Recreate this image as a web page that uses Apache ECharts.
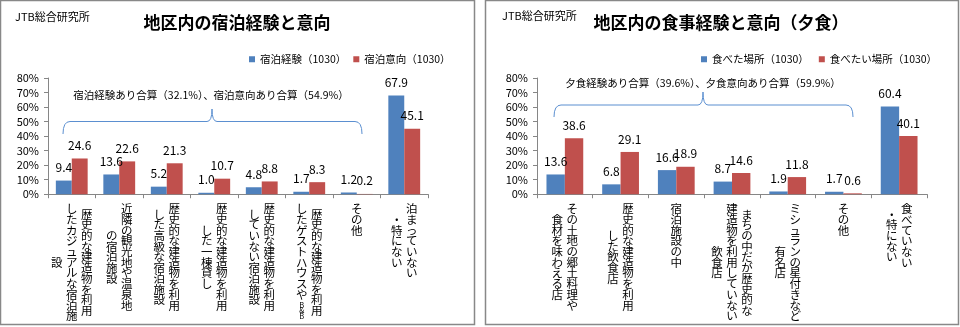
<!DOCTYPE html>
<html><head><meta charset="utf-8">
<script src="https://cdn.jsdelivr.net/npm/echarts@6/dist/echarts.min.js"></script>
<style>html,body{margin:0;padding:0;background:#fff}#c{width:960px;height:327px}</style>
</head><body><div id="c"></div>
<script>
const FONT = '"Noto Sans CJK JP", "Noto Sans", sans-serif';

// ---- Left chart data (宿泊) ----
const leftCategoryColumns = [
  ['歴史的な建造物を利用', 'したカジュアルな宿泊施', '設'],
  ['近隣の観光地や温泉地', 'の宿泊施設'],
  ['歴史的な建造物を利用', 'した高級な宿泊施設'],
  ['歴史的な建造物を利用', 'した一棟貸し'],
  ['歴史的な建造物を利用', 'していない宿泊施設'],
  ['歴史的な建造物を利用', 'したゲストハウスやB&B'],
  ['その他'],
  ['泊まっていない', '・特にない']
];
const leftSeriesNames = ['宿泊経験（1030）', '宿泊意向（1030）'];
const leftExperience = [9.4, 13.6, 5.2, 1.0, 4.8, 1.7, 1.2, 67.9];
const leftIntention  = [24.6, 22.6, 21.3, 10.7, 8.8, 8.3, 0.2, 45.1];
const leftNote = '宿泊経験あり合算（32.1%）、宿泊意向あり合算（54.9%）';
const leftTitle = '地区内の宿泊経験と意向';

// ---- Right chart data (夕食) ----
const rightCategoryColumns = [
  ['その土地の郷土料理や', '食材を味わえる店'],
  ['歴史的な建造物を利用', 'した飲食店'],
  ['宿泊施設の中'],
  ['まちの中だが歴史的な', '建造物を利用していない', '飲食店'],
  ['ミシュランの星付きなど', '有名店'],
  ['その他'],
  ['食べていない', '・特にない']
];
const rightSeriesNames = ['食べた場所（1030）', '食べたい場所（1030）'];
const rightAte  = [13.6, 6.8, 16.6, 8.7, 1.9, 1.7, 60.4];
const rightWant = [38.6, 29.1, 18.9, 14.6, 11.8, 0.6, 40.1];
const rightNote = '夕食経験あり合算（39.6%）、夕食意向あり合算（59.9%）';
const rightTitle = '地区内の食事経験と意向（夕食）';

const sourceLabel = 'JTB総合研究所';
const yMin = 0, yMax = 80, yStep = 10;

const BLUE = '#4F81BD', RED = '#C0504D', AXIS = '#868686';
const H = 5.35; // half character pitch for vertical labels

// Vertical (tategaki) label: columns right-to-left, shorter columns centred vertically
function vert(cols) {
  const colsItems = cols.map(s => Array.from(s).map(ch => ({ch, small: /[A-Za-z&]/.test(ch)})));
  const lens = colsItems.map(it => it.reduce((s, x) => s + (x.small ? 1 : 2), 0));
  const N = Math.max(...lens);
  const rowsPerCol = colsItems.map((items, k) => {
    const rows = {};
    let r = Math.round((N - lens[k]) / 2);
    items.forEach(x => { rows[r] = x; r += x.small ? 1 : 2; });
    return rows;
  });
  const lines = [];
  for (let r = 0; r < N; r++) {
    let line = '';
    for (let k = cols.length - 1; k >= 0; k--) {
      const x = rowsPerCol[k][r];
      line += x ? (x.small ? '{s|' + x.ch + '}' : '{c|' + x.ch + '}') : '{e|　}';
    }
    lines.push(line);
  }
  return lines.join('\n');
}

const leftCats = leftCategoryColumns.map(c => c.join(''));
const rightCats = rightCategoryColumns.map(c => c.join(''));
const colMap = {};
leftCategoryColumns.forEach(c => colMap[c.join('')] = c);
rightCategoryColumns.forEach(c => colMap[c.join('')] = c);

const richStyle = {
  c: {width: 15, align: 'center', fontSize: 11.5, lineHeight: H, fontFamily: FONT, color: '#000'},
  s: {width: 15, align: 'center', fontSize: 7.5, lineHeight: H, fontFamily: FONT, color: '#000'},
  e: {width: 15, align: 'center', fontSize: 11.5, lineHeight: H, fontFamily: FONT, color: '#000'}
};

function xAxis(gridIndex, data) {
  return {
    type: 'category', gridIndex, data,
    axisLine: {lineStyle: {color: AXIS}},
    axisTick: {show: true, length: 4, lineStyle: {color: AXIS}},
    axisLabel: {interval: 0, margin: 12, formatter: v => vert(colMap[v]), rich: richStyle}
  };
}
function yAxis(gridIndex) {
  return {
    type: 'value', gridIndex, min: yMin, max: yMax, interval: yStep,
    axisLine: {show: true, lineStyle: {color: AXIS}},
    axisTick: {show: true, length: 4, lineStyle: {color: AXIS}},
    splitLine: {show: false},
    axisLabel: {formatter: '{value}%', fontSize: 11, color: '#000', fontFamily: FONT, margin: 9}
  };
}
const dataLabel = {show: true, position: 'top', distance: 7, fontSize: 12, color: '#000', fontFamily: FONT,
  formatter: p => p.value.toFixed(1)};
function bar(name, data, idx, color, gap) {
  return {type: 'bar', name, data, xAxisIndex: idx, yAxisIndex: idx,
    barGap: '0%', barCategoryGap: gap, itemStyle: {color}, label: dataLabel};
}

function brace(x0, x1, xc, yEnd, yFlat, yPeak) {
  const r = 7, rp = 5;
  const st = {fill: 'none', stroke: '#5B8FD0', lineWidth: 1};
  return [
    {type: 'bezierCurve', shape: {x1: x0, y1: yEnd, cpx1: x0, cpy1: yFlat, x2: x0 + r, y2: yFlat}, style: st, silent: true},
    {type: 'line', shape: {x1: x0 + r, y1: yFlat, x2: xc - rp, y2: yFlat}, style: st, silent: true},
    {type: 'bezierCurve', shape: {x1: xc - rp, y1: yFlat, cpx1: xc, cpy1: yFlat, x2: xc, y2: yPeak}, style: st, silent: true},
    {type: 'bezierCurve', shape: {x1: xc, y1: yPeak, cpx1: xc, cpy1: yFlat, x2: xc + rp, y2: yFlat}, style: st, silent: true},
    {type: 'line', shape: {x1: xc + rp, y1: yFlat, x2: x1 - r, y2: yFlat}, style: st, silent: true},
    {type: 'bezierCurve', shape: {x1: x1 - r, y1: yFlat, cpx1: x1, cpy1: yFlat, x2: x1, y2: yEnd}, style: st, silent: true}
  ];
}

const chart = echarts.init(document.getElementById('c'));
chart.setOption({
  animation: false,
  textStyle: {fontFamily: FONT},
  grid: [
    {left: 48, top: 78, width: 380, height: 119},
    {left: 537, top: 78, width: 390, height: 119}
  ],
  xAxis: [xAxis(0, leftCats), xAxis(1, rightCats)],
  yAxis: [yAxis(0), yAxis(1)],
  legend: [
    {data: leftSeriesNames, left: 244, top: 49, icon: 'rect', itemWidth: 6, itemHeight: 6, itemGap: 7,
     textStyle: {fontSize: 10.5, color: '#000', fontFamily: FONT}},
    {data: rightSeriesNames, left: 696, top: 49, icon: 'rect', itemWidth: 6, itemHeight: 6, itemGap: 10,
     textStyle: {fontSize: 10.5, color: '#000', fontFamily: FONT}}
  ],
  series: [
    bar(leftSeriesNames[0], leftExperience, 0, BLUE, '33%'),
    bar(leftSeriesNames[1], leftIntention, 0, RED, '33%'),
    bar(rightSeriesNames[0], rightAte, 1, BLUE, '34%'),
    bar(rightSeriesNames[1], rightWant, 1, RED, '34%')
  ],
  graphic: [
    {type: 'rect', shape: {x: 0.5, y: 0.5, width: 474, height: 324}, style: {fill: 'none', stroke: '#888', lineWidth: 1.5}, silent: true},
    {type: 'rect', shape: {x: 485.5, y: 0.5, width: 473, height: 324}, style: {fill: 'none', stroke: '#888', lineWidth: 1.5}, silent: true},
    {type: 'text', style: {text: sourceLabel, x: 15, y: 17, verticalAlign: 'middle', font: '11px ' + FONT, fill: '#000'}},
    {type: 'text', style: {text: sourceLabel, x: 502, y: 16, verticalAlign: 'middle', font: '11px ' + FONT, fill: '#000'}},
    {type: 'text', style: {text: leftTitle, x: 237, y: 23, align: 'center', verticalAlign: 'middle', font: 'bold 17px ' + FONT, fill: '#000'}},
    {type: 'text', style: {text: rightTitle, x: 721, y: 23, align: 'center', verticalAlign: 'middle', font: 'bold 17px ' + FONT, fill: '#000'}},
    {type: 'text', style: {text: leftNote, x: 211, y: 95, align: 'center', verticalAlign: 'middle', font: '10.5px ' + FONT, fill: '#000'}},
    {type: 'text', style: {text: rightNote, x: 703, y: 83, align: 'center', verticalAlign: 'middle', font: '10.5px ' + FONT, fill: '#000'}},
    ...brace(63, 362, 212, 134, 121.5, 109),
    ...brace(554, 853, 703, 117, 105, 92)
  ]
});
</script>
</body></html>
